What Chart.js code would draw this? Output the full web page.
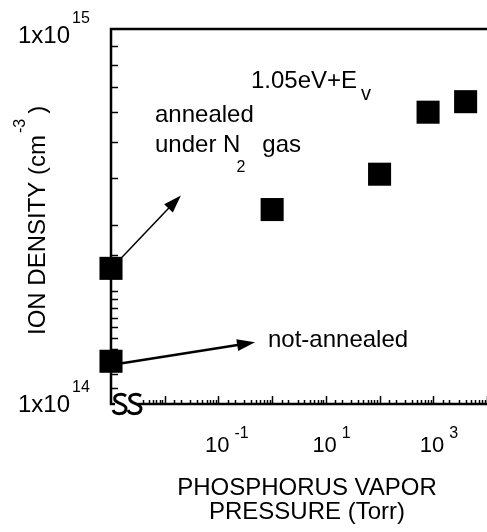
<!DOCTYPE html>
<html>
<head>
<meta charset="utf-8">
<script src="https://cdn.jsdelivr.net/npm/chart.js@4/dist/chart.umd.min.js"></script>
<style>
  html, body { margin: 0; padding: 0; background: #fff; }
  canvas { display: block; }
</style>
</head>
<body>
<canvas id="ionChart" width="487" height="532"></canvas>
<script>
// phosphorus-treated samples
const pressures = [1, 100, 800, 4000];               // Torr
const densities = [3.3e14, 4.1e14, 6.0e14, 6.4e14];  // cm^-3

// reference samples (no phosphorus), sitting on the axis break
const refPressures = [1e-3, 1e-3];
const refDensities = [2.3e14, 1.3e14];   // annealed under N2, not-annealed

// where the two note arrows point to (data units)
const arrowTipX = [0.02, 0.48];
const arrowTipY = [3.6e14, 1.46e14];

const xTickLabels = [1e-1, 1e1, 1e3];
const yTickLabels = [1e14, 1e15];

const FONT = "'Liberation Sans', Arial, sans-serif";

function font(size) {
  return size + "px " + FONT;
}

// draws a list of [text, size, dx, dy] pieces one after another
function richText(ctx, parts, x, y) {
  let cx = x;
  parts.forEach(([text, size, dx, dy]) => {
    ctx.font = font(size);
    cx += dx || 0;
    ctx.fillText(text, cx, y + (dy || 0));
    cx += ctx.measureText(text).width;
  });
}

function arrow(ctx, x0, y0, x1, y1, width) {
  const a = Math.atan2(y1 - y0, x1 - x0);
  const len = 18, half = 6;
  ctx.lineWidth = width;
  ctx.beginPath();
  ctx.moveTo(x0, y0);
  ctx.lineTo(x1 - Math.cos(a) * len * 0.8, y1 - Math.sin(a) * len * 0.8);
  ctx.stroke();
  ctx.beginPath();
  ctx.moveTo(x1, y1);
  ctx.lineTo(x1 - Math.cos(a) * len - Math.sin(a) * half, y1 - Math.sin(a) * len + Math.cos(a) * half);
  ctx.lineTo(x1 - Math.cos(a) * len + Math.sin(a) * half, y1 - Math.sin(a) * len - Math.cos(a) * half);
  ctx.closePath();
  ctx.fill();
}

// one "S" of the axis break
function squiggle(ctx, cx, top) {
  ctx.beginPath();
  ctx.moveTo(cx + 6, top + 2);
  ctx.bezierCurveTo(cx + 2, top - 1, cx - 7, top, cx - 5, top + 6);
  ctx.bezierCurveTo(cx - 3, top + 10, cx + 7, top + 10, cx + 6, top + 15);
  ctx.bezierCurveTo(cx + 5, top + 21, cx - 5, top + 21, cx - 7, top + 16);
  ctx.stroke();
}

const framePlugin = {
  id: "frame",
  afterDraw(chart) {
    const { ctx, chartArea: area, scales } = chart;
    const xs = scales.x, ys = scales.y;
    const isDecade = (v) => Math.abs(Math.log10(v) - Math.round(Math.log10(v))) < 1e-6;

    ctx.save();
    ctx.strokeStyle = "#000";
    ctx.fillStyle = "#000";
    ctx.lineCap = "butt";

    // frame: left and top, bottom axis starts after the break
    const breakEnd = xs.getPixelForValue(3.2e-3);
    ctx.lineWidth = 2.5;
    ctx.beginPath();
    ctx.moveTo(area.right, area.top);
    ctx.lineTo(area.left, area.top);
    ctx.lineTo(area.left, area.bottom);
    ctx.lineTo(area.left + 4, area.bottom);
    ctx.moveTo(breakEnd, area.bottom);
    ctx.lineTo(area.right, area.bottom);
    ctx.stroke();

    // axis break marks
    ctx.lineWidth = 3;
    squiggle(ctx, area.left + 9, area.bottom - 10);
    squiggle(ctx, area.left + 24, area.bottom - 10);

    // inward ticks
    ctx.lineWidth = 1.5;
    ys.ticks.forEach((t) => {
      if (isDecade(t.value)) return;
      const py = Math.round(ys.getPixelForValue(t.value)) + 0.5;
      ctx.beginPath();
      ctx.moveTo(area.left, py);
      ctx.lineTo(area.left + 7, py);
      ctx.stroke();
    });
    xs.ticks.forEach((t) => {
      if (t.value < 4e-3) return;
      const px = Math.round(xs.getPixelForValue(t.value)) + 0.5;
      const len = isDecade(t.value) ? 8 : 4;
      ctx.beginPath();
      ctx.moveTo(px, area.bottom);
      ctx.lineTo(px, area.bottom - len);
      ctx.stroke();
    });

    // tick labels
    ctx.textBaseline = "alphabetic";
    xTickLabels.forEach((v) => {
      const px = xs.getPixelForValue(v);
      const exp = Math.round(Math.log10(v));
      ctx.font = font(22);
      ctx.textAlign = "right";
      ctx.fillText("10", px + 11, 452);
      ctx.textAlign = "left";
      ctx.font = font(16);
      ctx.fillText(String(exp), px + 16, 438);
    });
    yTickLabels.forEach((v) => {
      const py = ys.getPixelForValue(v);
      const base = py + (v === ys.max ? 14 : 8);
      ctx.font = font(24);
      ctx.textAlign = "right";
      ctx.fillText("1x10", 70, base);
      ctx.textAlign = "left";
      ctx.font = font(16);
      ctx.fillText(String(Math.round(Math.log10(v))), 72, base - 20);
    });

    // axis titles
    ctx.textAlign = "center";
    ctx.font = font(24);
    ctx.fillText("PHOSPHORUS VAPOR", 307, 495);
    ctx.fillText("PRESSURE (Torr)", 307, 519);

    ctx.save();
    ctx.translate(45, 335);
    ctx.rotate(-Math.PI / 2);
    ctx.textAlign = "left";
    richText(ctx, [["ION DENSITY (cm", 24], ["-3", 16, 2, -20], [")", 24, 5]], 0, 0);
    ctx.restore();

    // notes
    ctx.textAlign = "left";
    richText(ctx, [["1.05eV+E", 24], ["v", 20, 4, 12]], 251, 88);
    ctx.font = font(24);
    ctx.fillText("annealed", 155, 122);
    richText(ctx, [["under N", 24], ["2", 16, -4, 20], ["gas", 24, 17]], 155, 152);
    ctx.font = font(24);
    ctx.fillText("not-annealed", 268, 347);

    // arrows from the reference points
    refPressures.forEach((p, i) => {
      const x0 = xs.getPixelForValue(p) + 11;
      const y0 = ys.getPixelForValue(refDensities[i]) + (i === 0 ? -11 : 2);
      arrow(ctx, x0, y0, xs.getPixelForValue(arrowTipX[i]), ys.getPixelForValue(arrowTipY[i]), i === 0 ? 1.5 : 2.5);
    });

    ctx.restore();
  }
};

new Chart(document.getElementById("ionChart"), {
  type: "scatter",
  data: {
    datasets: [
      {
        label: "phosphorus",
        data: pressures.map((p, i) => ({ x: p, y: densities[i] })),
        pointStyle: "rect",
        pointRadius: 16.3,
        pointHoverRadius: 16.3,
        backgroundColor: "#000",
        borderWidth: 0,
        clip: false
      },
      {
        label: "reference",
        data: refPressures.map((p, i) => ({ x: p, y: refDensities[i] })),
        pointStyle: "rect",
        pointRadius: 16.3,
        pointHoverRadius: 16.3,
        backgroundColor: "#000",
        borderWidth: 0,
        clip: false
      }
    ]
  },
  options: {
    responsive: false,
    animation: false,
    devicePixelRatio: 1,
    layout: { autoPadding: false, padding: { left: 111, top: 29, right: 0, bottom: 128 } },
    plugins: { legend: { display: false }, tooltip: { enabled: false } },
    events: [],
    scales: {
      x: {
        type: "logarithmic",
        display: false,
        min: 1e-3,
        max: 1e4,
        ticks: { autoSkip: false }
      },
      y: {
        type: "logarithmic",
        display: false,
        min: 1e14,
        max: 1e15,
        ticks: { autoSkip: false }
      }
    }
  },
  plugins: [framePlugin]
});
</script>
</body>
</html>
